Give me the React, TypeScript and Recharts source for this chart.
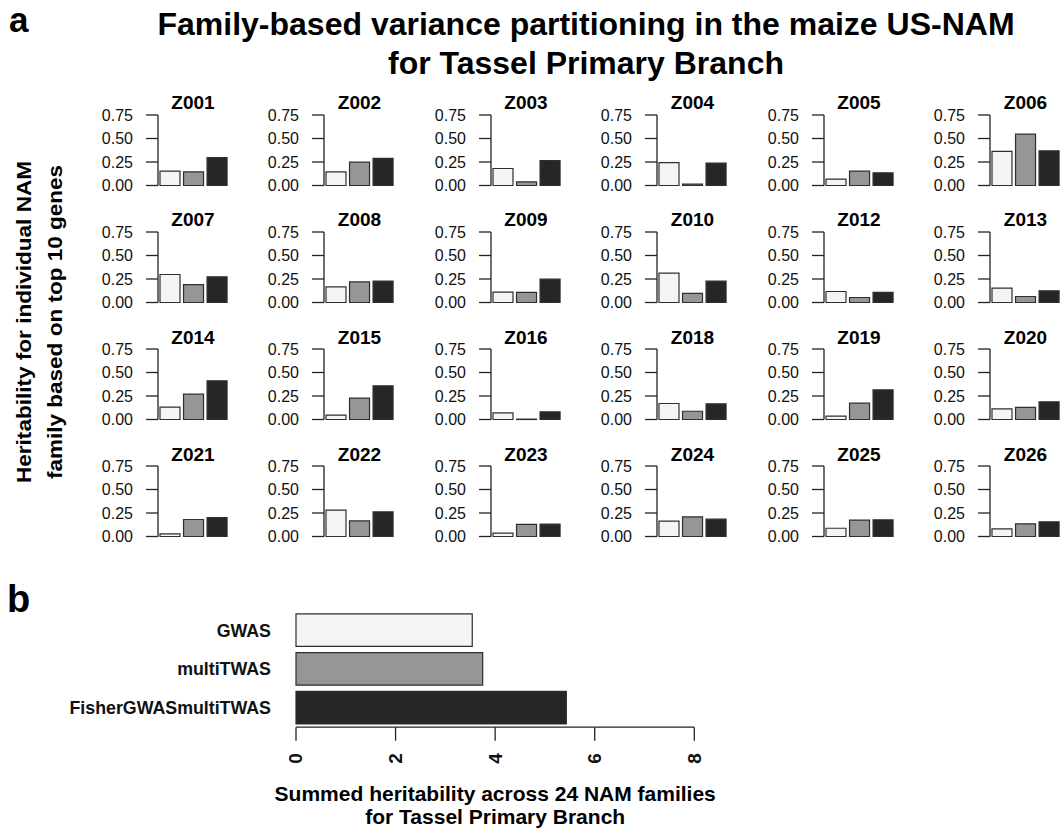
import { BarChart, Bar, XAxis, YAxis, Cell } from 'recharts'

// per-family heritability explained by the top 10 genes of each method
const FAMILIES = [
  'Z001', 'Z002', 'Z003', 'Z004', 'Z005', 'Z006',
  'Z007', 'Z008', 'Z009', 'Z010', 'Z012', 'Z013',
  'Z014', 'Z015', 'Z016', 'Z018', 'Z019', 'Z020',
  'Z021', 'Z022', 'Z023', 'Z024', 'Z025', 'Z026',
]
const GWAS = [
  0.152, 0.145, 0.181, 0.244, 0.067, 0.362,
  0.298, 0.167, 0.110, 0.312, 0.117, 0.152,
  0.131, 0.046, 0.071, 0.170, 0.036, 0.114,
  0.028, 0.281, 0.036, 0.163, 0.088, 0.081,
]
const MULTI_TWAS = [
  0.145, 0.248, 0.039, 0.015, 0.153, 0.546,
  0.191, 0.220, 0.107, 0.096, 0.053, 0.064,
  0.269, 0.227, 0.004, 0.088, 0.174, 0.128,
  0.181, 0.167, 0.128, 0.209, 0.174, 0.135,
]
const FISHER = [
  0.298, 0.288, 0.266, 0.238, 0.135, 0.369,
  0.273, 0.227, 0.248, 0.227, 0.107, 0.124,
  0.412, 0.358, 0.081, 0.167, 0.315, 0.188,
  0.202, 0.262, 0.131, 0.184, 0.177, 0.156,
]

// summed over the 24 families
const METHODS = ['GWAS', 'multiTWAS', 'FisherGWASmultiTWAS']
const SUMMED = [3.54, 3.75, 5.43]

const Y_TICKS = [0, 0.25, 0.5, 0.75]
const X_TICKS = [0, 2, 4, 6, 8]

const FILLS = ['#f4f4f4', '#969696', '#262626']
const EDGE = '#2e2e2e'
const FONT = '"Liberation Sans", Arial, Helvetica, sans-serif'

// small-multiple grid geometry
const COLS = 6
const AXIS_X0 = 157.7
const COL_STEP = 166.5
const BASE_Y0 = 185
const ROW_STEP = 117.3
const PLOT_H = 70.5
const PLOT_W = 70.6
const YAXIS_W = 80
const PAD = 14

function FamilyPanel({ idx }: { idx: number }) {
  const col = idx % COLS
  const row = Math.floor(idx / COLS)
  const axisX = AXIS_X0 + col * COL_STEP
  const base = BASE_Y0 + row * ROW_STEP
  const data = METHODS.map((m, i) => ({
    method: m,
    h2: [GWAS, MULTI_TWAS, FISHER][i][idx],
  }))
  return (
    <div style={{ position: 'absolute', left: axisX - YAXIS_W, top: base - PLOT_H - PAD }}>
      <BarChart
        width={YAXIS_W + PLOT_W + 2}
        height={PLOT_H + PAD * 2}
        data={data}
        margin={{ top: PAD, right: 2, bottom: PAD, left: 0 }}
      >
        <XAxis dataKey="method" hide />
        <YAxis
          domain={[0, 0.75]}
          ticks={Y_TICKS}
          interval={0}
          width={YAXIS_W}
          tickSize={12}
          tickMargin={13}
          tickFormatter={(v: number) => v.toFixed(2)}
          tick={{ fontSize: 16, fill: '#111', fontFamily: FONT }}
          axisLine={{ stroke: '#222', strokeWidth: 1.3 }}
          tickLine={{ stroke: '#222', strokeWidth: 1.3 }}
        />
        <Bar dataKey="h2" barSize={20} stroke={EDGE} strokeWidth={1.2} isAnimationActive={false}>
          {data.map((_, i) => <Cell key={i} fill={FILLS[i]} />)}
        </Bar>
      </BarChart>
    </div>
  )
}

function RotatedTick(props: any) {
  const { x, y, payload } = props
  return (
    <text
      x={x}
      y={y}
      transform={`rotate(-90 ${x} ${y})`}
      textAnchor="end"
      dominantBaseline="central"
      fontSize={19}
      fontWeight="bold"
      fontFamily={FONT}
      fill="#111"
    >
      {payload.value}
    </text>
  )
}

function SummedPanel() {
  const data = METHODS.map((m, i) => ({ method: m, total: SUMMED[i] }))
  return (
    <div style={{ position: 'absolute', left: 0, top: 590 }}>
      <BarChart
        layout="vertical"
        width={714.3}
        height={192}
        data={data}
        margin={{ top: 20.9, right: 20, bottom: 14.8, left: 0 }}
      >
        <XAxis
          type="number"
          domain={[0, 8]}
          ticks={X_TICKS}
          interval={0}
          height={40}
          tickSize={13.5}
          tickMargin={12.5}
          tick={(p: any) => <RotatedTick {...p} />}
          axisLine={{ stroke: '#222', strokeWidth: 1.3 }}
          tickLine={{ stroke: '#222', strokeWidth: 1.3 }}
        />
        <YAxis
          type="category"
          dataKey="method"
          width={296}
          axisLine={false}
          tickLine={false}
          tickSize={0}
          tickMargin={25}
          tick={{ fontSize: 17.8, fontWeight: 'bold', fill: '#111', fontFamily: FONT }}
        />
        <Bar dataKey="total" barSize={32.5} stroke={EDGE} strokeWidth={1.2} isAnimationActive={false}>
          {data.map((_, i) => <Cell key={i} fill={FILLS[i]} />)}
        </Bar>
      </BarChart>
    </div>
  )
}

export default function App() {
  return (
    <div
      style={{
        position: 'absolute', left: 0, top: 0, width: 1060, height: 830,
        overflow: 'hidden', background: '#fff', fontFamily: FONT,
      }}
    >
      {FAMILIES.map((_, i) => <FamilyPanel key={i} idx={i} />)}
      <SummedPanel />

      <svg
        width={1060}
        height={830}
        style={{ position: 'absolute', left: 0, top: 0, pointerEvents: 'none' }}
        fontFamily={FONT}
        fontWeight="bold"
        fill="#000"
      >
        <text x={9} y={32} fontSize={35}>a</text>
        <text x={586} y={34.5} fontSize={32} textAnchor="middle">
          Family-based variance partitioning in the maize US-NAM
        </text>
        <text x={586} y={74} fontSize={32} textAnchor="middle">for Tassel Primary Branch</text>

        <text
          x={31} y={322} fontSize={19.5} textAnchor="middle"
          textLength={322} lengthAdjust="spacingAndGlyphs"
          transform="rotate(-90 31 322)"
        >
          Heritability for individual NAM
        </text>
        <text
          x={62} y={322} fontSize={19.5} textAnchor="middle"
          textLength={314} lengthAdjust="spacingAndGlyphs"
          transform="rotate(-90 62 322)"
        >
          family based on top 10 genes
        </text>

        {FAMILIES.map((f, i) => (
          <text
            key={f}
            x={AXIS_X0 + (i % COLS) * COL_STEP + PLOT_W / 2}
            y={BASE_Y0 + Math.floor(i / COLS) * ROW_STEP - 76}
            fontSize={19}
            textAnchor="middle"
          >
            {f}
          </text>
        ))}

        <text x={7} y={612} fontSize={38}>b</text>
        <text x={495.2} y={801} fontSize={21} textAnchor="middle">
          Summed heritability across 24 NAM families
        </text>
        <text x={495.2} y={824} fontSize={21} textAnchor="middle">for Tassel Primary Branch</text>
      </svg>
    </div>
  )
}
